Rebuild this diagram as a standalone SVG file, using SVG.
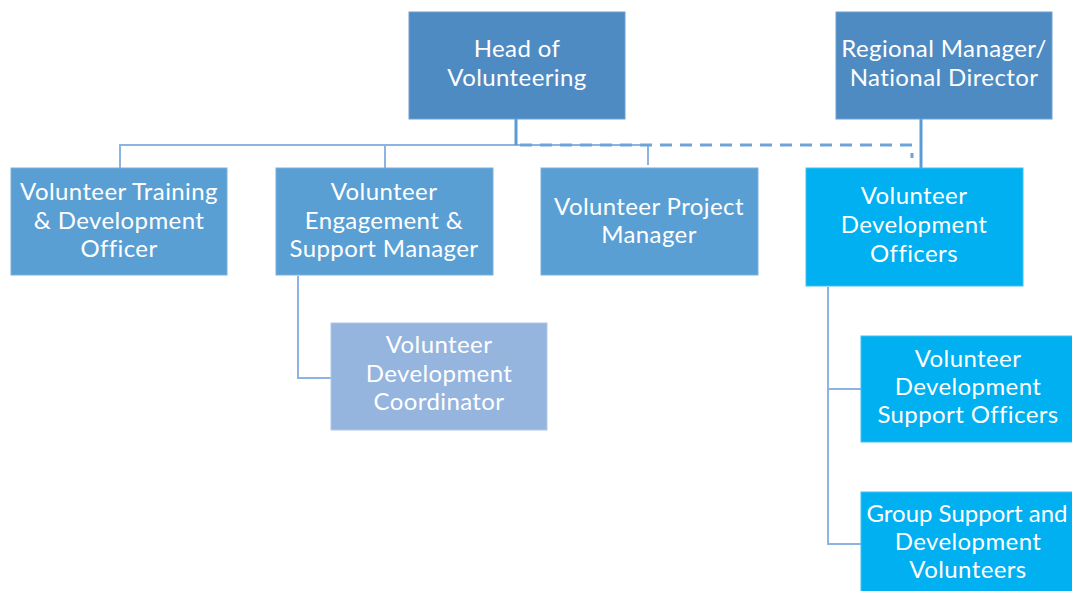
<svg xmlns="http://www.w3.org/2000/svg" width="1072" height="591" viewBox="0 0 1072 591">
<style>
.t{font-family:Lato,"Open Sans","Liberation Sans",sans-serif;font-size:24px;letter-spacing:0.4px;fill:#ffffff;text-anchor:middle}
.n{letter-spacing:0px}
.top{fill:#4F8BC3;stroke:#6FA0D0;stroke-width:1}
.mid{fill:#5A9FD4;stroke:#7AB0DD;stroke-width:1}
.lt{fill:#95B5DF;stroke:#B0C8E8;stroke-width:1}
.cy{fill:#00B0F0;stroke:#40C0F0;stroke-width:1}
.c{fill:none;stroke:#8DB3E2;stroke-width:2}
.cd{fill:none;stroke:#5B9BD5;stroke-width:3}
.dash{fill:none;stroke:#6FA3D8;stroke-width:3;stroke-dasharray:12,8}
</style>
<rect width="1072" height="591" fill="#ffffff"/>
<g id="connectors">
<path class="c" d="M120,168 V145 H648 V165"/>
<path class="c" d="M385,168 V145"/>
<path class="cd" d="M516,119 V145"/>
<path class="dash" d="M520,145 H912 V158"/>
<path class="cd" d="M921,119 V168"/>
<path class="c" d="M298,276 V378 H331"/>
<path class="c" d="M828,287 V544 H861 M828,389 H861"/>
</g>
<g id="head"><rect class="top" x="409" y="12" width="216" height="107"/><text class="t" x="517" y="57">Head of</text><text class="t" x="517" y="86">Volunteering</text></g>
<g id="regional"><rect class="top" x="836" y="12" width="216" height="107"/><text class="t" x="944" y="57">Regional Manager/</text><text class="t" x="944" y="86">National Director</text></g>
<g id="training"><rect class="mid" x="11" y="168" width="216" height="107"/><text class="t" x="119" y="200">Volunteer Training</text><text class="t" x="119" y="228.5">&amp; Development</text><text class="t" x="119" y="257">Officer</text></g>
<g id="engagement"><rect class="mid" x="276" y="168" width="217" height="107"/><text class="t" x="384" y="200">Volunteer</text><text class="t" x="384" y="228.5">Engagement &amp;</text><text class="t" x="384" y="257">Support Manager</text></g>
<g id="project"><rect class="mid" x="541" y="168" width="217" height="107"/><text class="t" x="649" y="215">Volunteer Project</text><text class="t" x="649" y="243">Manager</text></g>
<g id="vdo"><rect class="cy" x="806" y="168" width="217" height="118"/><text class="t" x="914" y="204">Volunteer</text><text class="t" x="914" y="233">Development</text><text class="t" x="914" y="262">Officers</text></g>
<g id="coordinator"><rect class="lt" x="331" y="323" width="216" height="107"/><text class="t" x="439" y="353">Volunteer</text><text class="t" x="439" y="382">Development</text><text class="t" x="439" y="410">Coordinator</text></g>
<g id="vdso"><rect class="cy" x="861" y="336" width="212" height="106"/><text class="t" x="968" y="367">Volunteer</text><text class="t" x="968" y="395">Development</text><text class="t" x="968" y="423">Support Officers</text></g>
<g id="group"><rect class="cy" x="861" y="492" width="212" height="100"/><text class="t n" x="967" y="522">Group Support and</text><text class="t" x="968" y="550">Development</text><text class="t" x="968" y="578">Volunteers</text></g>
</svg>
